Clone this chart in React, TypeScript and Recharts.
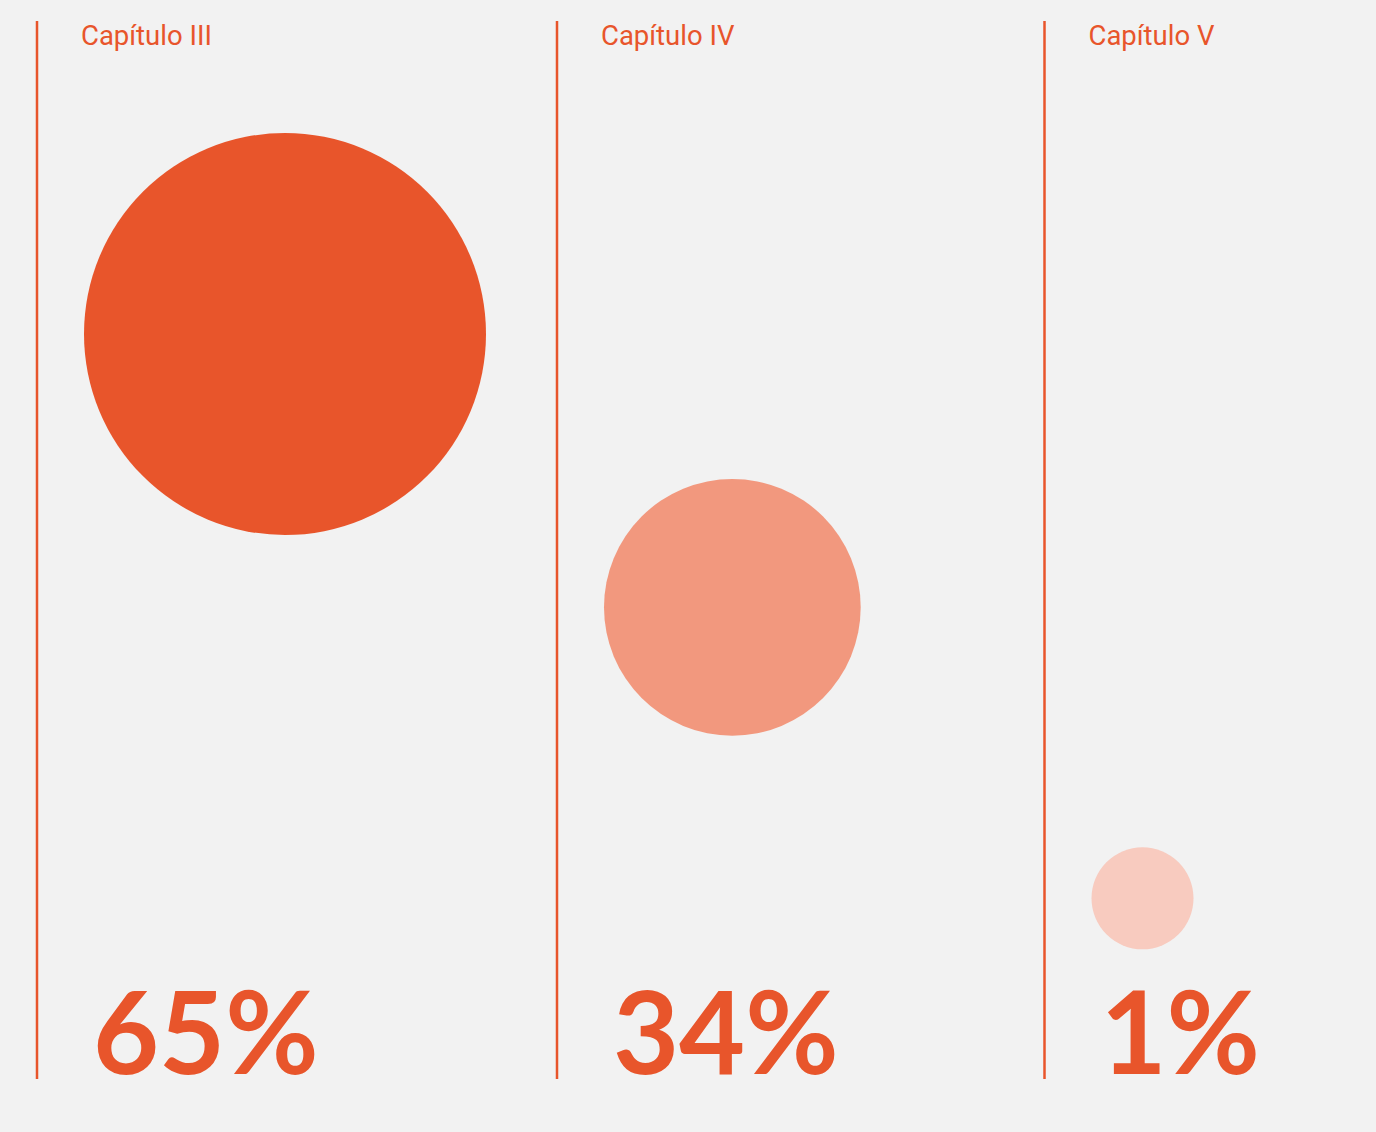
import { ReferenceLine, Scatter, ScatterChart, XAxis, YAxis, ZAxis } from 'recharts';

const chapters = ['Capítulo III', 'Capítulo IV', 'Capítulo V'];
const shares = [65, 34, 1];
// where each chapter column starts on the x axis (0–100 units)
const columnStarts = [0, 40, 77.5];

const COLORS = ['#e8552b', '#f2987e', '#f8cbbf'];
const ACCENT = '#e8552b';

const chartData = chapters.map((chapter, index) => ({
  chapter,
  share: shares[index],
  column: columnStarts[index],
  fill: COLORS[index],
}));

const Bubble = (props: any) => {
  const { cx, cy, size, payload } = props;
  const r = size;
  // bubbles hang off the left edge of their column
  return <circle cx={cx + 47 + r} cy={cy} r={r} fill={payload.fill} />;
};

const ColumnLabel = ({ viewBox, chapter, share }: any) => {
  const { x, y, height } = viewBox;
  return (
    <g>
      <text
        x={x + 44}
        y={y + 24}
        fill={ACCENT}
        fontFamily="Roboto, sans-serif"
        fontSize={27.5}
      >
        {chapter}
      </text>
      <text
        x={x + 56}
        y={y + height - 5}
        fill={ACCENT}
        fontFamily="Lato, sans-serif"
        fontWeight={700}
        fontSize={114}
      >
        {`${share}%`}
      </text>
    </g>
  );
};

export default function App() {
  return (
    <div
      style={{
        position: 'absolute',
        top: 0,
        left: 0,
        width: 1376,
        height: 1132,
        background: '#f2f2f2',
      }}
    >
      <ScatterChart width={1376} height={1132} margin={{ top: 21, right: 39, bottom: 53, left: 37 }}>
        <XAxis type="number" dataKey="column" domain={[0, 100]} hide />
        <YAxis type="number" dataKey="share" domain={[-19.5, 100.5]} hide />
        <ZAxis type="number" dataKey="share" domain={[1, 65]} range={[51, 201]} />
        {chartData.map((point) => (
          <ReferenceLine
            key={point.chapter}
            x={point.column}
            stroke={ACCENT}
            strokeWidth={2.5}
            ifOverflow="visible"
            label={(props: any) => <ColumnLabel {...props} chapter={point.chapter} share={point.share} />}
          />
        ))}
        <Scatter data={chartData} shape={Bubble} isAnimationActive={false} />
      </ScatterChart>
    </div>
  );
}
